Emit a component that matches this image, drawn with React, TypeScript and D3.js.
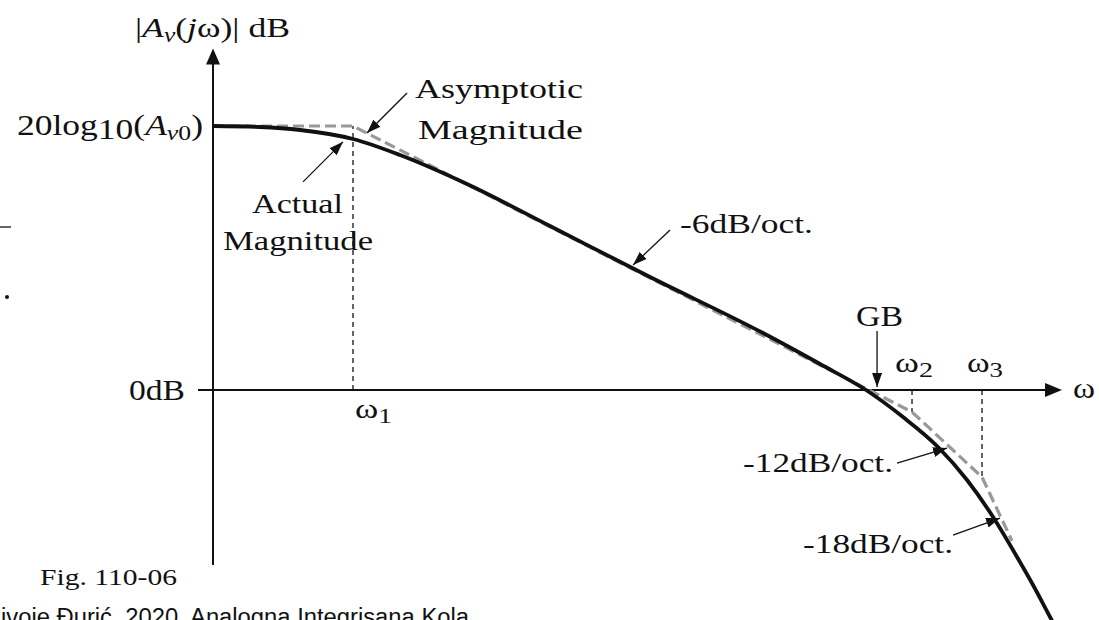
import React from "react";
import * as d3 from "d3";

// Frequency (rad/s, normalised to the first pole) and gain (dB) of the measured response
const OMEGA_ACTUAL = [0.154, 0.2885, 0.4924, 1, 1.874, 4.587, 13.91, 52.92, 239.7, 513.4, 949.3, 1556, 2484, 3661, 5183, 7142, 8843, 11100, 12350];
const DB_ACTUAL = [60, 59.77, 59.09, 57.05, 53.41, 46.82, 37.27, 25.68, 12.95, 5.91, 0, -6.14, -12.95, -20.45, -28.86, -37.95, -44.32, -51.59, -55.0];

// Straight-line (asymptotic) approximation: break points
const OMEGA_ASYMPTOTE = [0.154, 1, 1755, 4473, 6676];
const DB_ASYMPTOTE = [60, 60, -5.0, -19.8, -34.3];

// Pole frequencies marked on the axis
const POLE_SUBS = ["1", "2", "3"];
const POLE_OMEGA = [1, 1755, 4473];
const POLE_ASYM_DB = [60, -5.0, -19.8];

// Axis extents
const OMEGA_DOMAIN: [number, number] = [0.154, 12680];
const DB_LOW_GAIN = 0;
const DB_DC_GAIN = 60;
const DB_AXIS_BOTTOM = -39.8;
const DB_AXIS_TOP = 77.6;

// Slope annotations: target on curve (omega, dB) and label
const SLOPE_LABELS = ["-6dB/oct.", "-12dB/oct.", "-18dB/oct."];
const SLOPE_OMEGA = [42.2, 2803, 5689];
const SLOPE_DB = [28.4, -13.2, -29.1];

const W = 1099;
const H = 620;
const SERIF = "'Liberation Serif', 'Times New Roman', serif";

export default function App() {
  const x = d3.scaleLog().domain(OMEGA_DOMAIN).range([213, 1060]);
  const y = d3.scaleLinear().domain([DB_LOW_GAIN, DB_DC_GAIN]).range([390, 126]);

  const actual = OMEGA_ACTUAL.map((w, i) => [x(w), y(DB_ACTUAL[i])] as [number, number]);
  const asym = OMEGA_ASYMPTOTE.map((w, i) => [x(w), y(DB_ASYMPTOTE[i])] as [number, number]);

  const smooth = d3.line().curve(d3.curveMonotoneX);
  const straight = d3.line();

  const x0 = x(OMEGA_DOMAIN[0]);
  const xEnd = x(OMEGA_DOMAIN[1]);
  const yZero = y(0);
  const yTop = y(DB_AXIS_TOP);
  const yBottom = y(DB_AXIS_BOTTOM);

  const txt = {
    fontFamily: SERIF,
    fill: "#111",
  } as React.CSSProperties;

  // pointer arrow: tail offset relative to the tip
  const pointer = (tx: number, ty: number, dx: number, dy: number, key: string) => (
    <line key={key} x1={tx + dx} y1={ty + dy} x2={tx} y2={ty} stroke="#111" strokeWidth={1.3} markerEnd="url(#ptr)" />
  );

  const slopeTips = SLOPE_OMEGA.map((w, i) => [x(w), y(SLOPE_DB[i])]);
  const slopeTails = [
    [37, -35],
    [-50, 15],
    [-47, 17],
  ];
  const slopeText = [
    { x: 680, y: 233, w: 133 },
    { x: 743, y: 472, w: 150 },
    { x: 803, y: 553, w: 150 },
  ];

  return (
    <svg
      width={W}
      height={H}
      viewBox={`0 0 ${W} ${H}`}
      style={{ position: "absolute", left: 0, top: 0, background: "#fff" }}
    >
      <defs>
        <marker
          id="ptr"
          viewBox="0 0 10 10"
          refX="10"
          refY="5"
          markerWidth="14"
          markerHeight="10"
          markerUnits="userSpaceOnUse"
          orient="auto"
          preserveAspectRatio="none"
        >
          <path d="M0,0 L10,5 L0,10 z" fill="#111" />
        </marker>
      </defs>
      <rect x={0} y={0} width={W} height={H} fill="#fff" />

      {/* stray marks at the left edge */}
      <line x1={0} y1={227} x2={11} y2={227} stroke="#111" strokeWidth={1.3} />
      <circle cx={7} cy={297} r={2} fill="#111" />

      {/* axes */}
      <line x1={x0} y1={yBottom} x2={x0} y2={yTop + 14} stroke="#111" strokeWidth={2} />
      <path d={`M${x0},${yTop} L${x0 - 7},${yTop + 16} L${x0 + 7},${yTop + 16} Z`} fill="#111" />
      <line x1={198} y1={yZero} x2={xEnd - 14} y2={yZero} stroke="#111" strokeWidth={2} />
      <path d={`M${xEnd + 2},${yZero} L${xEnd - 15},${yZero - 7} L${xEnd - 15},${yZero + 7} Z`} fill="#111" />

      {/* pole markers */}
      {POLE_OMEGA.map((w, i) => (
        <line
          key={"pole" + i}
          x1={x(w)}
          x2={x(w)}
          y1={yZero}
          y2={y(POLE_ASYM_DB[i])}
          stroke="#111"
          strokeWidth={1.3}
          strokeDasharray="5 4"
        />
      ))}

      {/* asymptotic magnitude */}
      <path d={straight(asym) || ""} fill="none" stroke="#999" strokeWidth={3.2} strokeDasharray="11 5" />
      {/* actual magnitude */}
      <path d={smooth(actual) || ""} fill="none" stroke="#111" strokeWidth={3.8} strokeLinejoin="round" />

      {/* y-axis title */}
      <text x={135} y={37} fontSize={28} textLength={155} lengthAdjust="spacingAndGlyphs" style={txt}>
        <tspan>|</tspan>
        <tspan fontStyle="italic">A</tspan>
        <tspan fontStyle="italic" fontSize={20} dy={5}>v</tspan>
        <tspan dy={-5}>(</tspan>
        <tspan fontStyle="italic">j</tspan>
        <tspan>ω)| dB</tspan>
      </text>

      {/* y tick labels */}
      <text x={17} y={y(DB_DC_GAIN) + 9} fontSize={29} textLength={186} lengthAdjust="spacingAndGlyphs" style={txt}>
        <tspan>20log</tspan>
        <tspan dy={4}>10</tspan>
        <tspan dy={-4}>(</tspan>
        <tspan fontStyle="italic">A</tspan>
        <tspan fontStyle="italic" fontSize={21} dy={5}>v</tspan>
        <tspan fontSize={21}>0</tspan>
        <tspan dy={-5}>)</tspan>
      </text>
      <text x={129} y={yZero + 10} fontSize={29} textLength={56} lengthAdjust="spacingAndGlyphs" style={txt}>
        0dB
      </text>

      {/* x-axis label */}
      <text x={1073} y={398} fontSize={29} textLength={22} lengthAdjust="spacingAndGlyphs" style={txt}>
        ω
      </text>

      {/* pole labels */}
      {POLE_SUBS.map((s, i) => {
        const pos = [
          { x: x(POLE_OMEGA[0]) + 2, y: yZero + 28, w: 37 },
          { x: 895, y: yZero - 18, w: 38 },
          { x: 967, y: yZero - 18, w: 36 },
        ][i];
        return (
          <text key={"pl" + i} x={pos.x} y={pos.y} fontSize={27} textLength={pos.w} lengthAdjust="spacingAndGlyphs" style={txt}>
            <tspan>ω</tspan>
            <tspan fontSize={21} dy={5}>{s}</tspan>
          </text>
        );
      })}

      {/* asymptotic / actual annotations */}
      <text x={415} y={98} fontSize={28} textLength={168} lengthAdjust="spacingAndGlyphs" style={txt}>Asymptotic</text>
      <text x={418} y={139} fontSize={28} textLength={165} lengthAdjust="spacingAndGlyphs" style={txt}>Magnitude</text>
      {pointer(x(1.206), y(58.4), 40, -40, "pa")}
      <text x={252} y={213} fontSize={28} textLength={91} lengthAdjust="spacingAndGlyphs" style={txt}>Actual</text>
      <text x={223} y={250} fontSize={28} textLength={150} lengthAdjust="spacingAndGlyphs" style={txt}>Magnitude</text>
      {pointer(x(0.875), y(56.4), -40, 40, "pb")}

      {/* slope annotations */}
      {SLOPE_LABELS.map((l, i) => (
        <g key={"sl" + i}>
          {pointer(slopeTips[i][0], slopeTips[i][1], slopeTails[i][0], slopeTails[i][1], "sp" + i)}
          <text x={slopeText[i].x} y={slopeText[i].y} fontSize={28} textLength={slopeText[i].w} lengthAdjust="spacingAndGlyphs" style={txt}>
            {l}
          </text>
        </g>
      ))}

      {/* gain-bandwidth marker */}
      <text x={856} y={326} fontSize={29} textLength={47} lengthAdjust="spacingAndGlyphs" style={txt}>GB</text>
      {pointer(x(1100), yZero - 3, 0, -56, "gb")}

      {/* captions */}
      <text x={40} y={585} fontSize={24} textLength={137} lengthAdjust="spacingAndGlyphs" style={txt}>Fig. 110-06</text>
      <text x={1} y={625} fontSize={23} textLength={468} lengthAdjust="spacingAndGlyphs" style={{ fontFamily: "'Liberation Sans', Arial, sans-serif", fill: "#111" }}>
        ivoje Đurić, 2020, Analogna Integrisana Kola
      </text>
    </svg>
  );
}
